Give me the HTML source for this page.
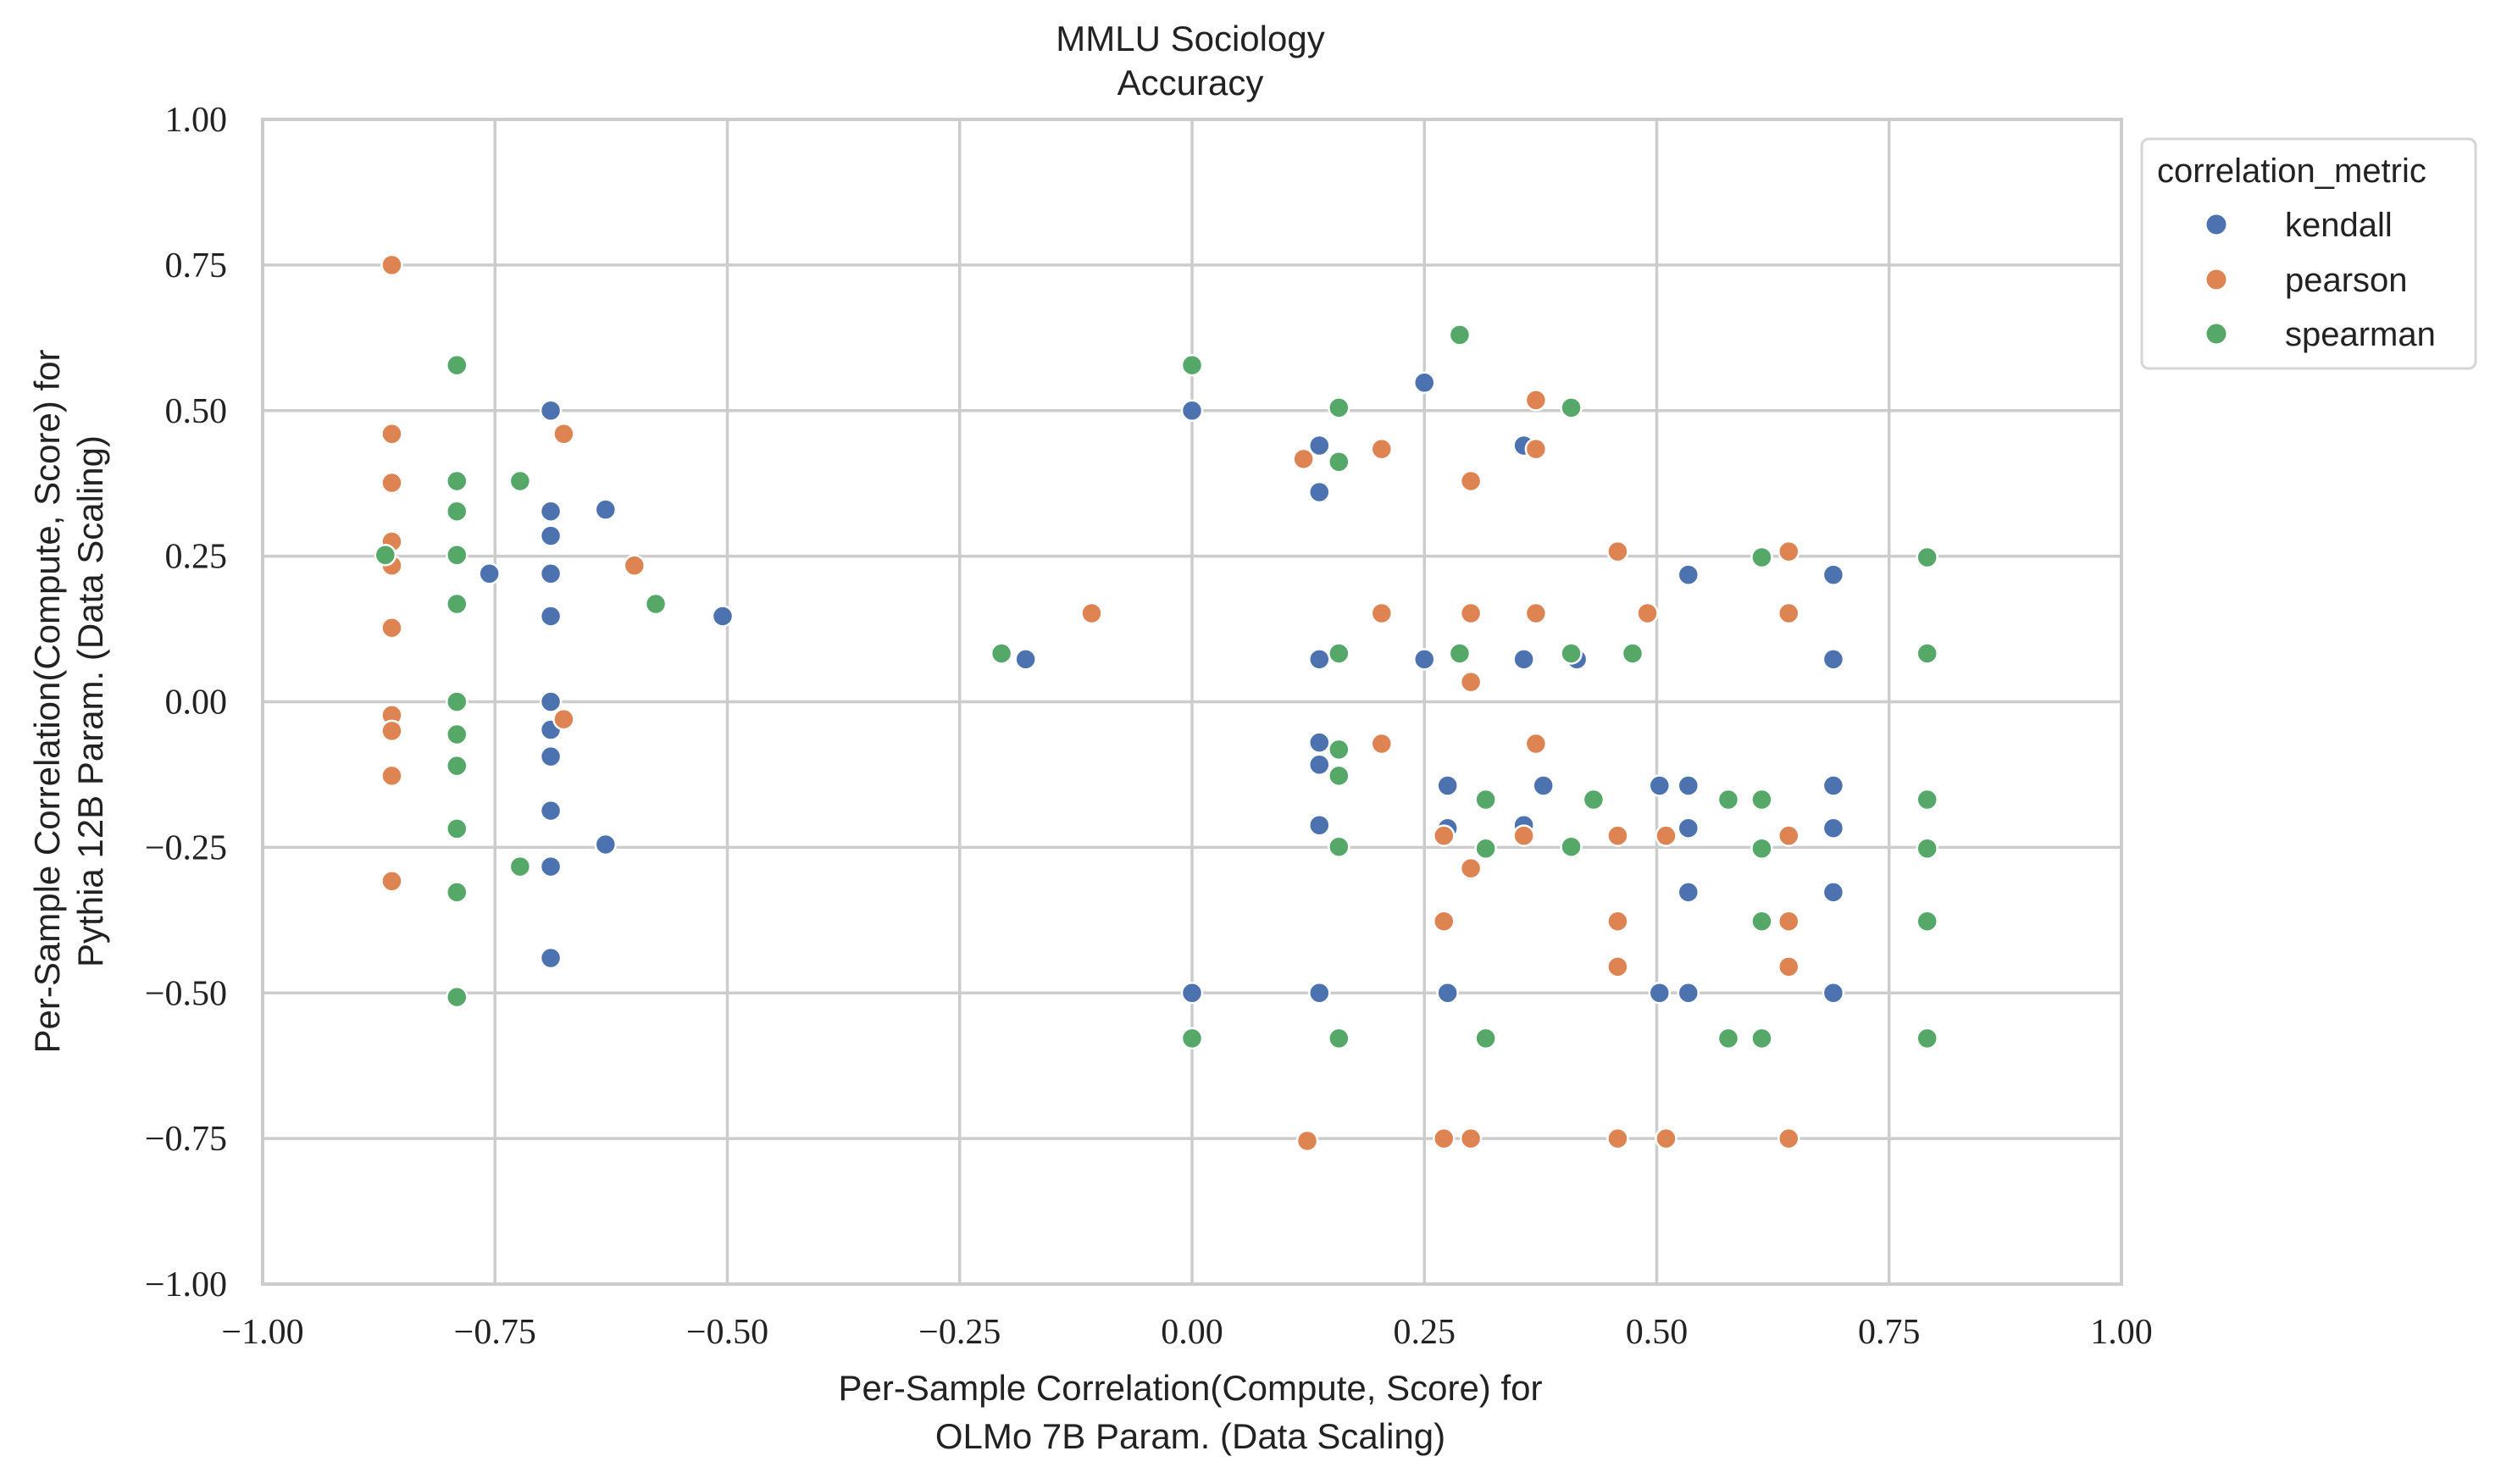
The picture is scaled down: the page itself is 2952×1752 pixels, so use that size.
<!DOCTYPE html>
<html><head><meta charset="utf-8"><style>
html,body{margin:0;padding:0;background:#fff;}
svg{display:block;}
</style></head><body>
<svg id="chart" width="2952" height="1752" viewBox="0 0 2952 1752" xmlns="http://www.w3.org/2000/svg">
<g id="grid"></g>
<g id="points"></g>
<g id="axes"></g>
<text x="1405" y="60" text-anchor="middle" font-family="Liberation Sans, DejaVu Sans, sans-serif" font-size="42" fill="#222">MMLU Sociology</text>
<text x="1405" y="112" text-anchor="middle" font-family="Liberation Sans, DejaVu Sans, sans-serif" font-size="42" fill="#222">Accuracy</text>
<text x="1405" y="1653" text-anchor="middle" font-family="Liberation Sans, DejaVu Sans, sans-serif" font-size="42" fill="#222">Per-Sample Correlation(Compute, Score) for</text>
<text x="1405" y="1710" text-anchor="middle" font-family="Liberation Sans, DejaVu Sans, sans-serif" font-size="42" fill="#222">OLMo 7B Param. (Data Scaling)</text>
<g transform="translate(0,828) rotate(-90)">
<text x="0" y="70" text-anchor="middle" font-family="Liberation Sans, DejaVu Sans, sans-serif" font-size="42" fill="#222">Per-Sample Correlation(Compute, Score) for</text>
<text x="0" y="121" text-anchor="middle" font-family="Liberation Sans, DejaVu Sans, sans-serif" font-size="42" fill="#222">Pythia 12B Param. (Data Scaling)</text>
</g>
<g>
<rect x="2528" y="164" width="394" height="271" rx="8" fill="#fff" stroke="#d5d5d5" stroke-width="3"/>
<text x="2546" y="215" font-family="Liberation Sans, DejaVu Sans, sans-serif" font-size="40" fill="#222">correlation_metric</text>
<circle cx="2616" cy="265" r="11.5" fill="#4c72b0"/>
<text x="2697" y="279" font-family="Liberation Sans, DejaVu Sans, sans-serif" font-size="40" fill="#222">kendall</text>
<circle cx="2616" cy="330" r="11.5" fill="#dd8452"/>
<text x="2697" y="344" font-family="Liberation Sans, DejaVu Sans, sans-serif" font-size="40" fill="#222">pearson</text>
<circle cx="2616" cy="394" r="11.5" fill="#55a868"/>
<text x="2697" y="408" font-family="Liberation Sans, DejaVu Sans, sans-serif" font-size="40" fill="#222">spearman</text>
</g>
</svg>
<script>
const xTicks = [-1, -0.75, -0.5, -0.25, 0, 0.25, 0.5, 0.75, 1];
const yTicks = [-1, -0.75, -0.5, -0.25, 0, 0.25, 0.5, 0.75, 1];
const tickLabels = ["\u22121.00","\u22120.75","\u22120.50","\u22120.25","0.00","0.25","0.50","0.75","1.00"];
const seriesNames = ["kendall","pearson","spearman"];
const kendallX = [-0.69,-0.69,-0.69,-0.69,-0.69,-0.69,-0.69,-0.69,-0.69,-0.69,-0.69,-0.631,-0.631,-0.756,-0.505,-0.179,0,0,0.137,0.137,0.137,0.137,0.137,0.137,0.137,0.25,0.25,0.275,0.275,0.275,0.357,0.357,0.357,0.378,0.414,0.503,0.503,0.534,0.534,0.534,0.534,0.534,0.69,0.69,0.69,0.69,0.69,0.69];
const kendallY = [0.5,0.327,0.285,0.22,0.147,0,-0.048,-0.094,-0.187,-0.283,-0.44,0.33,-0.245,0.22,0.147,0.073,0.5,-0.5,0.44,0.36,0.073,-0.07,-0.108,-0.212,-0.5,0.548,0.073,-0.144,-0.217,-0.5,0.44,0.073,-0.212,-0.144,0.073,-0.144,-0.5,0.218,-0.144,-0.217,-0.327,-0.5,0.218,0.073,-0.144,-0.217,-0.327,-0.5];
const pearsonX = [-0.861,-0.861,-0.861,-0.861,-0.861,-0.861,-0.861,-0.861,-0.861,-0.861,-0.676,-0.676,-0.6,-0.108,0.124,0.12,0.204,0.204,0.204,0.271,0.271,0.271,0.3,0.3,0.3,0.3,0.3,0.37,0.37,0.37,0.37,0.357,0.458,0.458,0.458,0.458,0.458,0.49,0.51,0.51,0.642,0.642,0.642,0.642,0.642,0.642];
const pearsonY = [0.75,0.46,0.376,0.275,0.234,0.127,-0.023,-0.05,-0.127,-0.308,0.46,-0.03,0.234,0.152,-0.754,0.417,0.434,0.152,-0.072,-0.23,-0.377,-0.75,0.379,0.152,0.034,-0.286,-0.75,0.518,0.434,0.152,-0.072,-0.23,0.258,-0.23,-0.377,-0.455,-0.75,0.152,-0.23,-0.75,0.258,0.152,-0.23,-0.377,-0.455,-0.75];
const spearmanX = [-0.868,-0.791,-0.791,-0.791,-0.791,-0.791,-0.791,-0.791,-0.791,-0.791,-0.791,-0.791,-0.723,-0.723,-0.577,-0.205,0,0,0.158,0.158,0.158,0.158,0.158,0.158,0.158,0.288,0.288,0.316,0.316,0.316,0.408,0.408,0.408,0.432,0.474,0.577,0.577,0.613,0.613,0.613,0.613,0.613,0.791,0.791,0.791,0.791,0.791,0.791];
const spearmanY = [0.252,0.578,0.379,0.327,0.252,0.168,0,-0.056,-0.11,-0.218,-0.327,-0.507,0.379,-0.283,0.168,0.083,0.578,-0.578,0.505,0.412,0.083,-0.082,-0.127,-0.249,-0.578,0.63,0.083,-0.168,-0.252,-0.578,0.505,0.083,-0.249,-0.168,0.083,-0.168,-0.578,0.248,-0.168,-0.252,-0.377,-0.578,0.248,0.083,-0.168,-0.252,-0.377,-0.578];

const NS = "http://www.w3.org/2000/svg";
const L = 310, R = 2504, T = 141, B = 1516;
function sx(v){ return L + (v + 1) / 2 * (R - L); }
function sy(v){ return B - (v + 1) / 2 * (B - T); }
function mk(tag, attrs){ const e = document.createElementNS(NS, tag); for (const k in attrs) e.setAttribute(k, attrs[k]); return e; }

const grid = document.getElementById('grid');
const axes = document.getElementById('axes');
xTicks.forEach((v, i) => {
  const ln = mk('line', {x1: sx(v), x2: sx(v), y1: T, y2: B, stroke: '#cccccc', 'stroke-width': 3.5});
  
  
  grid.appendChild(ln);
  const t = mk('text', {x: sx(v), y: 1586, 'text-anchor': 'middle', 'font-family': 'Liberation Serif, DejaVu Serif, serif', 'font-size': 42, fill: '#222'});
  t.textContent = tickLabels[i];
  
  
  axes.appendChild(t);
});
yTicks.forEach((v, i) => {
  const ln = mk('line', {x1: L, x2: R, y1: sy(v), y2: sy(v), stroke: '#cccccc', 'stroke-width': 3.5});
  
  
  grid.appendChild(ln);
  const t = mk('text', {x: 268, y: sy(v) + 14, 'text-anchor': 'end', 'font-family': 'Liberation Serif, DejaVu Serif, serif', 'font-size': 42, fill: '#222'});
  t.textContent = tickLabels[i];
  
  
  axes.appendChild(t);
});
const frame = mk('rect', {x: L, y: T, width: R - L, height: B - T, fill: 'none', stroke: '#cccccc', 'stroke-width': 4});


axes.appendChild(frame);

const pts = document.getElementById('points');
const series = [[kendallX, kendallY, '#4c72b0'], [pearsonX, pearsonY, '#dd8452'], [spearmanX, spearmanY, '#55a868']];
series.forEach((s, si) => {
  s[0].forEach((xv, i) => {
    const c = mk('circle', {cx: sx(xv), cy: sy(s[1][i]), r: 12, fill: s[2], stroke: '#ffffff', 'stroke-width': 2.5});
    
    
    pts.appendChild(c);
  });
});
</script>
</body></html>
